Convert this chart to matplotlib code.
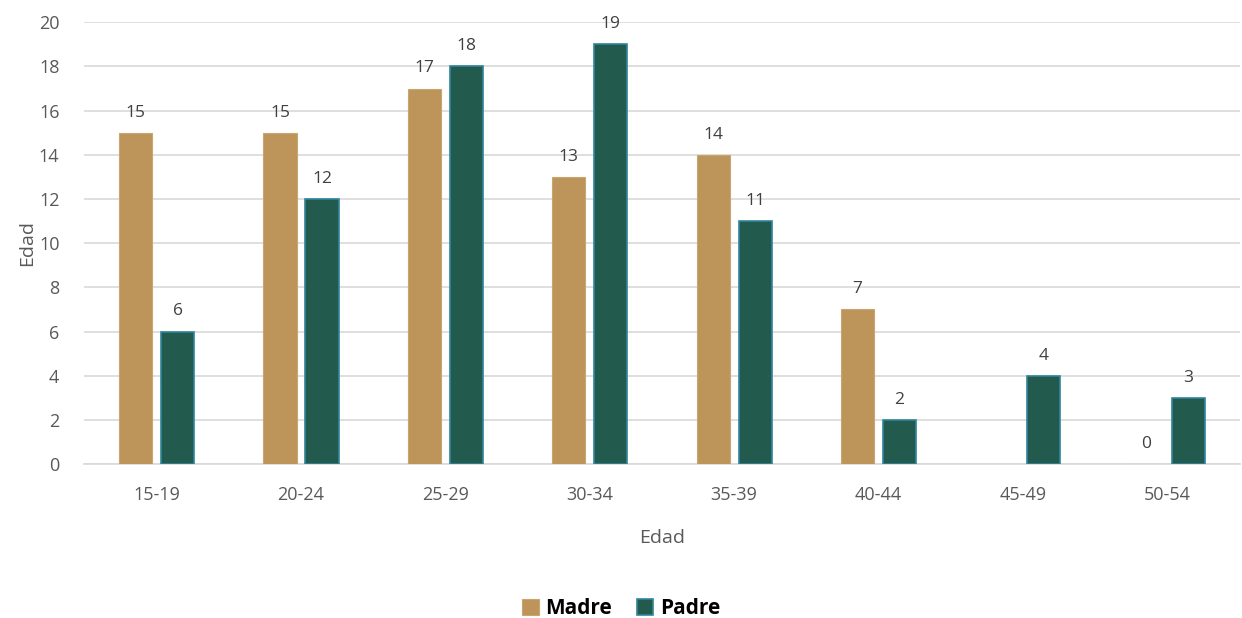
import numpy as np
from matplotlib import pyplot as plt

categories = ["15-19", "20-24", "25-29", "30-34", "35-39", "40-44", "45-49", "50-54"]
madre = [15, 15, 17, 13, 14, 7, np.nan, 0]
padre = [6, 12, 18, 19, 11, 2, 4, 3]

plt.rcParams["font.family"] = ["Open Sans", "DejaVu Sans"]
text_color = "#595959"

fig = plt.figure(figsize=(12.42, 6.18), dpi=100)
ax = fig.add_axes([0.068, 0.249, 0.93, 0.715])

x = np.arange(len(categories))
w = 0.23
gap = 0.03
b1 = ax.bar(x - w / 2 - gap, madre, w, color="#BD955A", edgecolor="#C9A670", linewidth=0.8, label="Madre", zorder=3)
b2 = ax.bar(x + w / 2 + gap, padre, w, color="#225A4D", edgecolor="#31859C", linewidth=1.2, label="Padre", zorder=3)

for xi, v in zip(x, madre):
    if not np.isnan(v):
        ax.text(xi - w / 2 - gap, v + 0.55, f"{int(v)}", ha="center", va="bottom", fontsize=12.5, color="#404040")
for xi, v in zip(x, padre):
    ax.text(xi + w / 2 + gap, v + 0.55, f"{int(v)}", ha="center", va="bottom", fontsize=12.5, color="#404040")

ax.set_xlim(-0.5, len(categories) - 0.5)
ax.set_ylim(0, 20)
ax.set_yticks(range(0, 21, 2))
ax.set_xticks(x)
ax.set_xticklabels(categories)
ax.tick_params(axis="both", length=0, labelsize=13, colors=text_color)
ax.tick_params(axis="x", pad=16)
ax.tick_params(axis="y", pad=18)
ax.grid(axis="y", color="#D9D9D9", linewidth=1.2, zorder=0)
for s in ["top", "right", "left"]:
    ax.spines[s].set_visible(False)
ax.spines["bottom"].set_color("#D9D9D9")
ax.spines["bottom"].set_linewidth(1.2)

ax.set_xlabel("Edad", fontsize=14, color=text_color, labelpad=18)
ax.set_ylabel("Edad", fontsize=14, color=text_color, labelpad=2)

leg = fig.legend(handles=[b1, b2], loc="lower center", bbox_to_anchor=(0.5, -0.032), ncol=2, frameon=False,
                 prop={"weight": "bold", "size": 15}, handlelength=0.8, handleheight=0.8, handletextpad=0.3,
                 columnspacing=1.2)
for t in leg.get_texts():
    t.set_color("#000000")

fig.savefig("out.png", dpi=100)
